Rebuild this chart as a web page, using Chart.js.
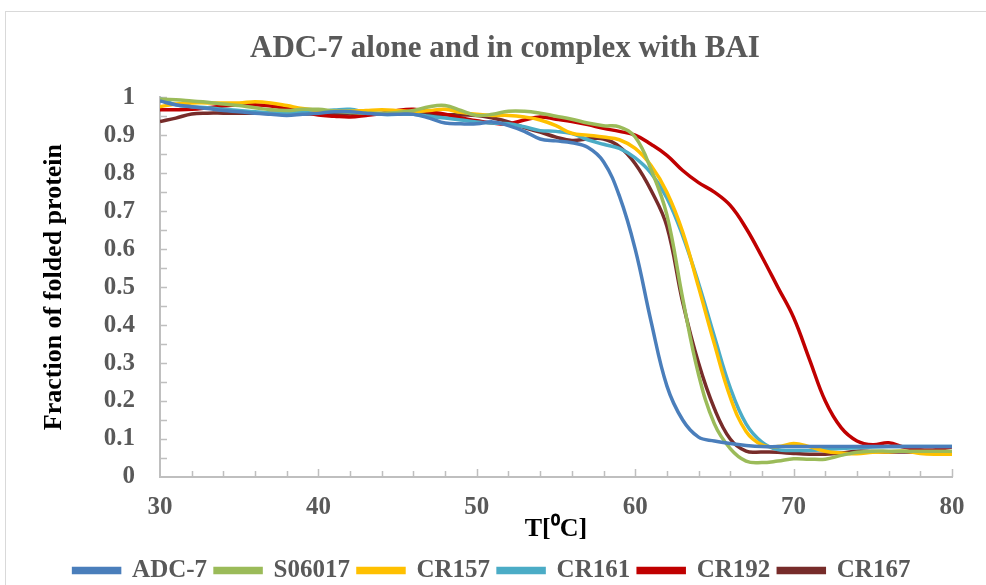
<!DOCTYPE html>
<html>
<head>
<meta charset="utf-8">
<script src="https://cdn.jsdelivr.net/npm/chart.js@4.4.0/dist/chart.umd.min.js"></script>
<style>
  body { margin: 0; background: #fff; overflow: hidden; }
  #frame { position: absolute; left: 5px; top: 11px; width: 990px; height: 590px; border: 1px solid #d9d9d9; }
  #myChart { position: absolute; left: 0; top: 0; }
</style>
</head>
<body>
<div id="frame"></div>
<canvas id="myChart" width="986" height="585"></canvas>
<script>
// temperature in degrees C
var temps = [30, 31, 32, 33, 34, 35, 36, 37, 38, 39, 40, 41, 42, 43, 44, 45, 46, 47, 48, 49,
  50, 51, 52, 53, 54, 55, 56, 57, 58, 59, 60, 61, 62, 63, 64, 65, 66, 67, 68, 69,
  70, 71, 72, 73, 74, 75, 76, 77, 78, 79, 80];

// fraction of folded protein
var adc7 = [0.99, 0.98, 0.975, 0.97, 0.965, 0.962, 0.958, 0.955, 0.952, 0.955, 0.958, 0.962, 0.962, 0.958, 0.955, 0.955, 0.955, 0.945, 0.932, 0.93,
  0.93, 0.935, 0.925, 0.91, 0.89, 0.885, 0.88, 0.868, 0.83, 0.74, 0.60, 0.41, 0.24, 0.15, 0.105, 0.095, 0.088, 0.083, 0.08, 0.08,
  0.08, 0.08, 0.08, 0.08, 0.08, 0.08, 0.08, 0.08, 0.08, 0.08, 0.08];
var s06017 = [0.995, 0.993, 0.99, 0.987, 0.982, 0.978, 0.972, 0.967, 0.965, 0.968, 0.968, 0.963, 0.96, 0.958, 0.958, 0.96, 0.965, 0.975, 0.978, 0.965,
  0.952, 0.955, 0.963, 0.963, 0.958, 0.95, 0.942, 0.932, 0.925, 0.922, 0.895, 0.81, 0.69, 0.47, 0.27, 0.14, 0.075, 0.042, 0.038, 0.042,
  0.048, 0.047, 0.047, 0.057, 0.065, 0.068, 0.068, 0.068, 0.068, 0.068, 0.068];
var cr157 = [0.975, 0.982, 0.985, 0.985, 0.985, 0.985, 0.988, 0.985, 0.978, 0.97, 0.965, 0.963, 0.963, 0.965, 0.967, 0.965, 0.962, 0.965, 0.968, 0.96,
  0.955, 0.952, 0.952, 0.948, 0.94, 0.925, 0.905, 0.9, 0.895, 0.888, 0.865, 0.82, 0.75, 0.645, 0.5, 0.35, 0.21, 0.12, 0.085, 0.08,
  0.088, 0.08, 0.068, 0.063, 0.061, 0.065, 0.066, 0.068, 0.062, 0.06, 0.06];
var cr161 = [0.996, 0.98, 0.975, 0.972, 0.968, 0.965, 0.962, 0.958, 0.958, 0.96, 0.962, 0.966, 0.968, 0.96, 0.955, 0.955, 0.955, 0.95, 0.945, 0.94,
  0.935, 0.932, 0.93, 0.922, 0.912, 0.91, 0.904, 0.888, 0.876, 0.865, 0.84, 0.80, 0.735, 0.635, 0.51, 0.37, 0.235, 0.14, 0.092, 0.072,
  0.07, 0.07, 0.072, 0.075, 0.077, 0.079, 0.08, 0.08, 0.08, 0.08, 0.08];
var cr192 = [0.967, 0.967, 0.968, 0.972, 0.977, 0.98, 0.98, 0.977, 0.97, 0.962, 0.953, 0.95, 0.948, 0.952, 0.957, 0.965, 0.968, 0.962, 0.955, 0.945,
  0.938, 0.932, 0.93, 0.94, 0.948, 0.942, 0.936, 0.928, 0.918, 0.91, 0.9, 0.876, 0.847, 0.807, 0.775, 0.75, 0.715, 0.655, 0.58, 0.5,
  0.42, 0.31, 0.2, 0.13, 0.095, 0.085, 0.09, 0.078, 0.072, 0.072, 0.079];
var cr167 = [0.936, 0.945, 0.956, 0.958, 0.958, 0.958, 0.958, 0.958, 0.957, 0.956, 0.956, 0.956, 0.956, 0.956, 0.956, 0.956, 0.956, 0.955, 0.954, 0.953,
  0.952, 0.945, 0.935, 0.92, 0.908, 0.895, 0.886, 0.89, 0.89, 0.87, 0.825, 0.755, 0.66, 0.46, 0.30, 0.18, 0.1, 0.068, 0.066, 0.065,
  0.062, 0.06, 0.06, 0.063, 0.068, 0.067, 0.066, 0.066, 0.066, 0.066, 0.066];

var seriesNames = ['ADC-7', 'S06017', 'CR157', 'CR161', 'CR192', 'CR167'];
var seriesValues = [adc7, s06017, cr157, cr161, cr192, cr167];
var seriesColors = ['#4a7ebb', '#9bbb59', '#ffc000', '#4bacc6', '#c00000', '#772c2a'];

var FONT = '"Liberation Serif", "Times New Roman", serif';

// small inward tick marks like the original, and nudge title/legend to where Excel put them
var innerTicks = {
  id: 'innerTicks',
  afterLayout: function (chart) {
    chart.titleBlock.left = 58;
    chart.titleBlock.right = 952;
    chart.legend.left += 16;
    chart.legend.right += 16;
  },
  beforeDatasetsDraw: function (chart) {
    var ctx = chart.ctx;
    var xs = chart.scales.x, ys = chart.scales.y;
    ctx.save();
    ctx.strokeStyle = '#bfbfbf';
    ctx.lineWidth = 1.5;
    for (var v = 0.05; v <= 1.0001; v += 0.05) {
      var py = Math.round(ys.getPixelForValue(v)) + 0.5;
      ctx.beginPath();
      ctx.moveTo(xs.left, py);
      ctx.lineTo(xs.left + 7, py);
      ctx.stroke();
    }
    for (var t = 32; t <= 80; t += 2) {
      var px = Math.round(xs.getPixelForValue(t)) + 0.5;
      ctx.beginPath();
      ctx.moveTo(px, ys.bottom);
      ctx.lineTo(px, ys.bottom - (t % 10 === 0 ? 8 : 6));
      ctx.stroke();
    }
    ctx.restore();
  }
};

var ctx = document.getElementById('myChart').getContext('2d');
var chart = new Chart(ctx, {
  type: 'line',
  data: {
    labels: temps,
    datasets: seriesNames.map(function (name, i) {
      return {
        label: name,
        data: temps.map(function (t, j) { return { x: t, y: seriesValues[i][j] }; }),
        borderColor: seriesColors[i],
        backgroundColor: seriesColors[i],
        borderWidth: 3.5,
        pointRadius: 0,
        tension: 0.4,
        fill: false
      };
    })
  },
  options: {
    responsive: false,
    animation: false,
    layout: { padding: { left: 0, right: 34, top: 0, bottom: -8 } },
    plugins: {
      title: {
        display: true,
        text: 'ADC-7 alone and in complex with BAI',
        color: '#595959',
        font: { family: FONT, size: 31, weight: 'bold' },
        padding: { top: 30, bottom: 30 }
      },
      legend: {
        position: 'bottom',
        labels: {
          color: '#595959',
          font: { family: FONT, size: 25, weight: 'bold' },
          boxWidth: 46,
          boxHeight: 4,
          padding: 8
        }
      },
      tooltip: { enabled: false }
    },
    scales: {
      x: {
        type: 'linear',
        min: 30,
        max: 80,
        ticks: { stepSize: 10, color: '#595959', padding: 16, font: { family: FONT, size: 25, weight: 'bold' } },
        grid: { drawOnChartArea: false, drawTicks: false },
        border: { color: '#bfbfbf', width: 2 },
        title: { display: true, text: 'T[\u2070C]', color: '#000', font: { family: FONT, size: 26, weight: 'bold' }, padding: { top: 0, bottom: 5 } },
        afterFit: function (scale) { scale.height = 73; }
      },
      y: {
        min: 0,
        max: 1,
        ticks: {
          stepSize: 0.1, color: '#595959', padding: 25, font: { family: FONT, size: 25, weight: 'bold' },
          callback: function (v) { return String(Math.round(v * 10) / 10); }
        },
        grid: { drawOnChartArea: false, drawTicks: false },
        border: { color: '#bfbfbf', width: 2 },
        title: { display: true, text: 'Fraction of folded protein', color: '#000', font: { family: FONT, size: 26, weight: 'bold' }, padding: { top: 39, bottom: 0 } },
        afterFit: function (scale) { scale.width = 160; }
      }
    }
  },
  plugins: [innerTicks]
});
</script>
</body>
</html>
